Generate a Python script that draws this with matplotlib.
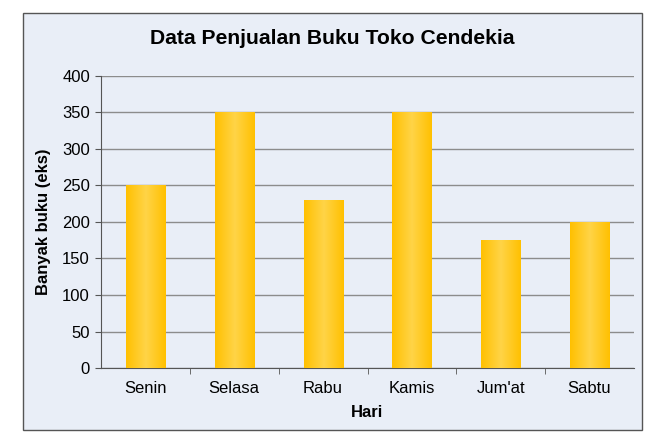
import matplotlib.pyplot as plt
import numpy as np
from matplotlib.colors import LinearSegmentedColormap
from matplotlib.patches import Rectangle

plt.rcParams['font.family'] = ['Liberation Sans', 'DejaVu Sans']

# data
hari = ['Senin', 'Selasa', 'Rabu', 'Kamis', "Jum'at", 'Sabtu']
penjualan = [250, 350, 230, 350, 175, 200]

bg = '#E9EEF7'
fig = plt.figure(figsize=(6.54, 4.40), dpi=100)
fig.patch.set_facecolor('white')

# outer chart frame
frame = Rectangle((23 / 654, 1 - 430 / 440), 619 / 654, 417 / 440,
                  transform=fig.transFigure, facecolor=bg, edgecolor='#555555',
                  linewidth=1.0, zorder=-5)
fig.patches.append(frame)

ax = fig.add_axes([101 / 654, 72 / 440, 533 / 654, 292 / 440])
ax.set_zorder(2)
ax.patch.set_alpha(0)

x = np.arange(len(hari))
width = 0.44
bars = ax.bar(x, penjualan, width=width, color='none', zorder=3)

# horizontal gradient: darker at edges, lighter in middle
cmap = LinearSegmentedColormap.from_list('bar', ['#FFC000', '#FFD447', '#FFC000'])
grad = np.linspace(0, 1, 256).reshape(1, -1)
for b in bars:
    im = ax.imshow(grad, cmap=cmap, aspect='auto', zorder=3,
                   extent=(b.get_x(), b.get_x() + b.get_width(), 0, b.get_height()))
    im.set_clip_path(b)

ax.set_xlim(-0.5, len(hari) - 0.5)
ax.set_ylim(0, 400)
ax.set_yticks(np.arange(0, 401, 50))
ax.set_xticks(x)
ax.set_xticklabels(hari)
ax.set_xticks(np.arange(0.5, len(hari) - 1, 1), minor=True)
ax.tick_params(axis='x', which='major', length=0, pad=9, labelsize=12)
ax.tick_params(axis='x', which='minor', length=4, color='#555555')
ax.tick_params(axis='y', length=4, color='#555555', labelsize=12, pad=4)

ax.yaxis.grid(True, color='#8C8C8C', linewidth=1.0, zorder=1)
ax.set_axisbelow(True)
for s in ['top', 'right']:
    ax.spines[s].set_visible(False)
for s in ['left', 'bottom']:
    ax.spines[s].set_color('#555555')

ax.set_xlabel('Hari', fontsize=12, fontweight='bold', labelpad=7)
ax.set_ylabel('Banyak buku (eks)', fontsize=12, fontweight='bold', labelpad=8)
fig.text(332.5 / 654, 1 - 38 / 440, 'Data Penjualan Buku Toko Cendekia',
         ha='center', va='center', fontsize=15.2, fontweight='bold')

plt.savefig('out.png', dpi=100)
